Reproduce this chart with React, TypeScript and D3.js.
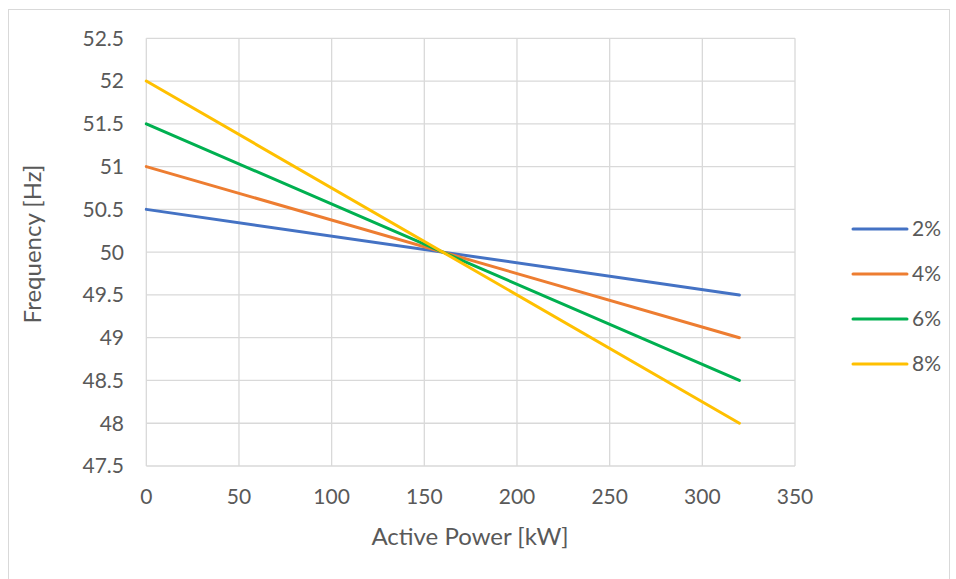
import React from 'react';
import * as d3 from 'd3';

const powerKW = [0, 320];
const seriesNames = ['2%', '4%', '6%', '8%'];
const seriesValues = [
  [50.5, 49.5],
  [51, 49],
  [51.5, 48.5],
  [52, 48],
];
const colors = ['#4472C4', '#ED7D31', '#00B050', '#FFC000'];
const xTicks = [0, 50, 100, 150, 200, 250, 300, 350];
const yTicks = [47.5, 48, 48.5, 49, 49.5, 50, 50.5, 51, 51.5, 52, 52.5];

const W = 956, H = 579;
const font = 'Lato, "Open Sans", sans-serif';
const textColor = '#595959';

const App = () => {
  const x = d3.scaleLinear().domain([0, 350]).range([146.3, 795]);
  const y = d3.scaleLinear().domain([47.5, 52.5]).range([466, 38.3]);
  const line = d3.line<number>()
    .x((_, i) => x(powerKW[i]))
    .y(d => y(d));

  return (
    <svg width={W} height={H} style={{ position: 'absolute', left: 0, top: 0, background: '#fff' }}>
      <rect x={8.5} y={9.5} width={941} height={590} fill="#fff" stroke="#d9d9d9" />
      {xTicks.map(t => (
        <line key={'gx' + t} x1={x(t)} x2={x(t)} y1={y(52.5)} y2={y(47.5)} stroke="#d9d9d9" strokeWidth={1.3} />
      ))}
      {yTicks.map(t => (
        <line key={'gy' + t} x1={x(0)} x2={x(350)} y1={y(t)} y2={y(t)} stroke="#d9d9d9" strokeWidth={1.3} />
      ))}
      {yTicks.map(t => (
        <text key={'ty' + t} x={124} y={y(t)} dy="0.35em" textAnchor="end" fontFamily={font} fontSize={21} fill={textColor}>
          {t}
        </text>
      ))}
      {xTicks.map(t => (
        <text key={'tx' + t} x={x(t)} y={497} dy="0.35em" textAnchor="middle" fontFamily={font} fontSize={21} fill={textColor}>
          {t}
        </text>
      ))}
      <text x={470} y={537} dy="0.35em" textAnchor="middle" fontFamily={font} fontSize={24} fill={textColor}>
        Active Power [kW]
      </text>
      <text transform={`translate(33,244) rotate(-90)`} dy="0.35em" textAnchor="middle" fontFamily={font} fontSize={24} fill={textColor}>
        Frequency [Hz]
      </text>
      {seriesValues.map((s, i) => (
        <path key={seriesNames[i]} d={line(s) || ''} fill="none" stroke={colors[i]} strokeWidth={3} strokeLinecap="round" />
      ))}
      {seriesNames.map((n, i) => (
        <g key={'lg' + n} transform={`translate(0,${229 + i * 45})`}>
          <line x1={853} x2={907} y1={0} y2={0} stroke={colors[i]} strokeWidth={3} strokeLinecap="round" />
          <text x={912} y={0} dy="0.35em" fontFamily={font} fontSize={21} fill={textColor}>{n}</text>
        </g>
      ))}
    </svg>
  );
};

export default App;
